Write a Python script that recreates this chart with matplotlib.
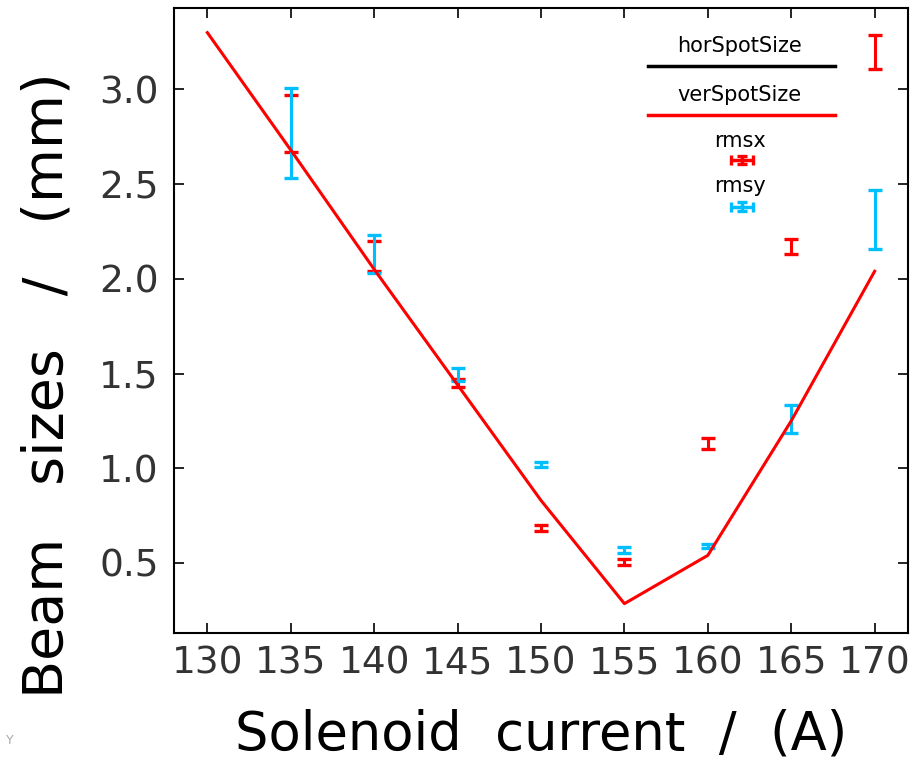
import matplotlib
matplotlib.use("Agg")
import matplotlib.pyplot as plt
import numpy as np

# ---- data ----
current = [130, 135, 140, 145, 150, 155, 160, 165, 170]
ver_spot = [3.30, 2.68, 2.05, 1.44, 0.83, 0.285, 0.54, 1.25, 2.04]

meas_x = [135, 140, 145, 150, 155, 160, 165, 170]
rmsx = [2.82, 2.12, 1.45, 0.685, 0.505, 1.13, 2.17, 3.20]
rmsx_err = [0.15, 0.08, 0.02, 0.017, 0.018, 0.03, 0.04, 0.09]
rmsy = [2.77, 2.13, 1.495, 1.02, 0.57, 0.59, 1.26, 2.315]
rmsy_err = [0.24, 0.10, 0.035, 0.012, 0.015, 0.01, 0.075, 0.155]

xticks = [130, 135, 140, 145, 150, 155, 160, 165, 170]
yticks = [0.5, 1.0, 1.5, 2.0, 2.5, 3.0]

RED = "#ff0000"
CYAN = "#00bfff"

fig = plt.figure(figsize=(9.16, 7.65), dpi=100)
ax = fig.add_axes([174/916, 1-633/765, 734/916, 625/765])

ax.errorbar(meas_x, rmsx, yerr=rmsx_err, fmt="none", ecolor=RED,
            elinewidth=2.2, capsize=5, capthick=2.4, zorder=2)
ax.errorbar(meas_x, rmsy, yerr=rmsy_err, fmt="none", ecolor=CYAN,
            elinewidth=2.2, capsize=5, capthick=2.4, zorder=3)
ax.plot(current, ver_spot, color=RED, lw=2.2, zorder=4)

ax.set_xlim(128, 172)
ax.set_ylim(0.13, 3.43)
ax.set_xticks(xticks)
ax.set_xticklabels([str(t) for t in xticks])
ax.set_yticks(yticks)
ax.set_yticklabels([f"{t:.1f}" for t in yticks])
ax.tick_params(direction="in", length=7, width=1.2, top=True, right=True,
               labelsize=27, labelcolor="#333333")
ax.tick_params(axis="x", pad=9)
ax.tick_params(axis="y", pad=11)
for s in ax.spines.values():
    s.set_linewidth(1.5)

# ---- legend (manual) ----
tr = ax.transAxes
ax.text(0.771, 0.939, "horSpotSize", transform=tr, ha="center", va="center", fontsize=15)
ax.plot([0.646, 0.901], [0.907, 0.907], transform=tr, color="black", lw=2.5)
ax.text(0.771, 0.861, "verSpotSize", transform=tr, ha="center", va="center", fontsize=15)
ax.plot([0.646, 0.901], [0.829, 0.829], transform=tr, color=RED, lw=2.5)
ax.text(0.771, 0.787, "rmsx", transform=tr, ha="center", va="center", fontsize=15)
ax.errorbar([0.774], [0.757], xerr=[0.015], yerr=[0.007], transform=tr, fmt="none",
            ecolor=RED, elinewidth=2.5, capsize=3.5, capthick=2.4)
ax.text(0.771, 0.715, "rmsy", transform=tr, ha="center", va="center", fontsize=15)
ax.errorbar([0.774], [0.682], xerr=[0.015], yerr=[0.007], transform=tr, fmt="none",
            ecolor=CYAN, elinewidth=2.5, capsize=3.5, capthick=2.4)

fig.text(541/916, 1-735/765, "Solenoid  current  /  (A)", ha="center", va="center",
         fontsize=38)
fig.text(48/916, 1-385/765, "Beam   sizes   /   (mm)", ha="center", va="center",
         rotation=90, fontsize=40)
fig.text(10/916, 1-741/765, "Y", ha="center", va="center", fontsize=9, color="#aaaaaa")

fig.savefig("out.png", dpi=100)
